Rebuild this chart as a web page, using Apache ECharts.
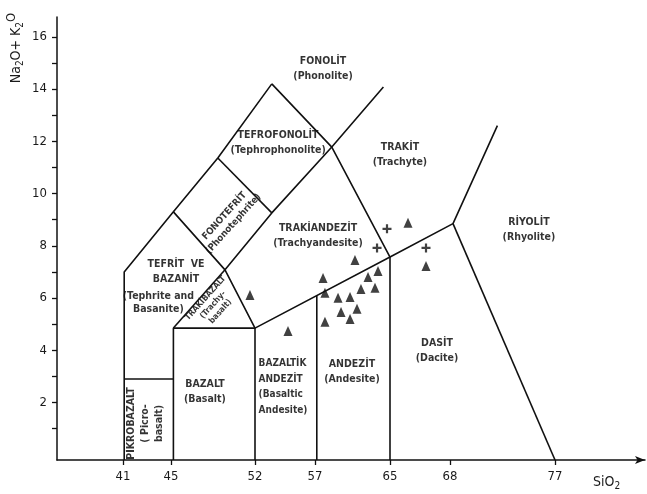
<!DOCTYPE html>
<html><head><meta charset="utf-8">
<script src="https://cdn.jsdelivr.net/npm/echarts@6/dist/echarts.min.js"></script>
<style>html,body{margin:0;padding:0;background:#fff}#c{width:647px;height:494px}</style>
</head><body><div id="c"></div>
<script>
// ---- axis ticks ----
const xTickValues = [41, 45, 52, 57, 63.25, 68.25, 77];
const xTickLabels = ['41', '45', '52', '57', '65', '68', '77'];
const yTickValues = [1,2,3,4,5,6,7,8,9,10,11,12,13,14,15,16];
const yLabelValues = [2,4,6,8,10,12,14,16];

// ---- field boundaries (SiO2, Na2O+K2O) ----
const bLeftOuter   = [[41.1,-0.2],[41.1,7.0],[45.2,9.3],[48.9,11.36],[53.4,14.2]];
const bPhonoTrach  = [[53.4,14.2],[58.4,11.78],[63.25,7.57],[63.25,-0.2]];
const bLongDiag    = [[49.5,7.08],[53.4,9.26],[58.4,11.78],[62.7,14.08]];
const bTephrite    = [[45.2,9.3],[49.5,7.08],[52.0,4.85]];
const bPhonoteph   = [[48.9,11.36],[53.4,9.26]];
const bLowerMain   = [[45.2,-0.2],[45.2,4.85],[52.0,4.85],[63.25,7.57],[68.5,8.85],[72.2,12.6]];
const bTrachybas   = [[45.2,4.85],[49.5,7.08]];
const bBasalt52    = [[52.0,4.85],[52.0,-0.2]];
const bAndesite57  = [[57.15,6.1],[57.15,-0.2]];
const bDacite      = [[68.5,8.85],[77.0,-0.2]];
const bPicro       = [[41.1,2.9],[45.2,2.9]];
const boundaries = [bLeftOuter,bPhonoTrach,bLongDiag,bTephrite,bPhonoteph,bLowerMain,bTrachybas,bBasalt52,bAndesite57,bDacite,bPicro];

// ---- samples ----
const triangles = [[51.58,6.12],[64.75,8.88],[66.25,7.23],[60.33,7.46],[57.67,6.77],[57.83,6.20],
  [62.25,7.04],[61.42,6.81],[62.0,6.39],[60.83,6.35],[58.92,6.01],[59.92,6.04],[60.5,5.59],
  [59.17,5.47],[59.92,5.20],[57.83,5.09],[54.75,4.74]];
const pluses = [[63.0,8.65],[62.17,7.92],[66.25,7.92]];

// ---- field names ----
const fieldTexts = ['FONOLİT\n(Phonolite)','TEFROFONOLİT\n(Tephrophonolite)','FONOTEFRİT\n(Phonotephrite)',
  'TEFRİT  VE\nBAZANİT','(Tephrite and\nBasanite)','TRAKİBAZALT\n(Trachy-\nbasalt)',
  'TRAKİANDEZİT\n(Trachyandesite)','TRAKİT\n(Trachyte)','RİYOLİT\n(Rhyolite)','DASİT\n(Dacite)',
  'ANDEZİT\n(Andesite)','BAZALTİK\nANDEZİT\n(Basaltic\nAndesite)','BAZALT\n(Basalt)','PİKROBAZALT\n( Picro-\nbasalt)'];
const fieldAt = [[57.67,14.77],[53.92,11.94],[49.83,8.99],[45.42,7.0],[43.95,5.81],[48.5,5.74],
  [57.25,8.38],[64.08,11.48],[74.83,8.61],[67.17,3.98],[60.08,3.18],[52.3,2.6],[47.83,2.41],[42.83,1.2]];

const FONT = '"DejaVu Sans Condensed","DejaVu Sans",sans-serif';
const INK = '#111';
const TXT = '#000';

const labelOverrides = {
  2: {rotate: 48, fontSize: 9.5, lineHeight: 12},
  5: {rotate: 48, fontSize: 8.3, lineHeight: 10},
  4: {lineHeight: 13},
  11: {position: 'right', distance: 0, align: 'left', fontSize: 10, lineHeight: 15.5},
  13: {rotate: 90, fontSize: 10.5, lineHeight: 14}
};

const chart = echarts.init(document.getElementById('c'), null, {renderer: 'canvas'});
const series = boundaries.map(b => ({
  type: 'line', data: b, symbol: 'none', silent: true, animation: false,
  lineStyle: {color: INK, width: 1.6}
}));
series.push({
  type: 'scatter', data: triangles, symbol: 'triangle', symbolSize: [9, 10],
  itemStyle: {color: INK}, animation: false, silent: true
});
series.push({
  type: 'scatter', data: pluses, symbol: 'path://M3.4,0H5.6V3.4H9V5.6H5.6V9H3.4V5.6H0V3.4H3.4Z', symbolSize: 9,
  itemStyle: {color: INK}, animation: false, silent: true
});
series.push({
  type: 'scatter', symbolSize: 0, animation: false, silent: true,
  data: fieldTexts.map((t, i) => {
    const o = labelOverrides[i] || {};
    return {name: t, value: fieldAt[i], label: Object.assign({
      show: true, position: 'inside', formatter: '{b}', color: TXT,
      fontFamily: FONT, fontWeight: 'bold', fontSize: 10.5, lineHeight: 15, align: 'center'
    }, o)};
  })
});

chart.setOption({
  animation: false,
  backgroundColor: '#fff',
  grid: {left: 57, right: 2, top: 17, bottom: 34},
  xAxis: {
    type: 'value', min: 35.5, max: 84.5,
    axisLine: {onZero: false, lineStyle: {color: INK, width: 1.5}, symbol: ['none', 'arrow'], symbolSize: [6, 10]},
    splitLine: {show: false},
    axisTick: {customValues: xTickValues, length: 5, lineStyle: {color: INK, width: 1.3}},
    axisLabel: {customValues: xTickValues, margin: 10, color: '#1a1a1a', fontFamily: FONT, fontSize: 13,
      formatter: v => { const i = xTickValues.findIndex(t => Math.abs(t - v) < 1e-6); return i >= 0 ? xTickLabels[i] : ''; }}
  },
  yAxis: {
    type: 'value', min: -0.2, max: 16.76,
    axisLine: {show: true, onZero: false, lineStyle: {color: INK, width: 1.5}},
    splitLine: {show: false},
    axisTick: {customValues: yTickValues, length: 5, lineStyle: {color: INK, width: 1.3}},
    axisLabel: {customValues: yLabelValues, margin: 10, color: '#1a1a1a', fontFamily: FONT, fontSize: 13}
  },
  graphic: [
    {type: 'text', x: 16, y: 48, rotation: Math.PI / 2, silent: true,
      style: {text: 'Na{s|2}O+ K{s|2}{p|O}', fill: '#1a1a1a', font: '14px ' + FONT, align: 'center', verticalAlign: 'middle',
        rich: {s: {fontSize: 10, fontFamily: FONT, fill: '#1a1a1a', padding: [8, 0, 0, 0]},
               p: {fontSize: 13, fontFamily: FONT, fill: '#1a1a1a', padding: [0, 0, 8, 0]}}}},
    {type: 'text', x: 593, y: 482, silent: true,
      style: {text: 'SiO{s|2}', fill: '#1a1a1a', font: '14px ' + FONT, align: 'left', verticalAlign: 'middle',
        rich: {s: {fontSize: 10, fontFamily: FONT, fill: '#1a1a1a', padding: [8, 0, 0, 0]}}}}
  ],
  series: series
});
</script></body></html>
